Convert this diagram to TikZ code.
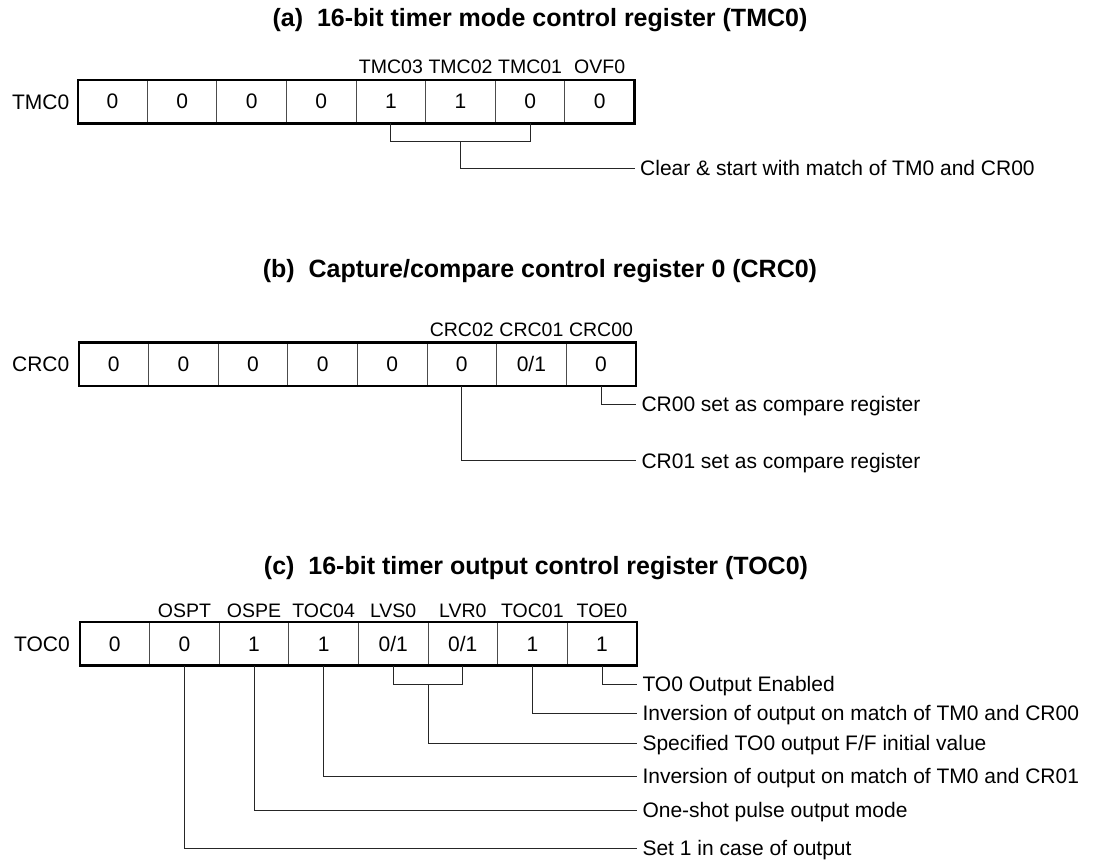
\documentclass[tikz,border=0pt]{standalone}
\usepackage{fontspec}
\setmainfont{Liberation Sans}
\begin{document}
\begin{tikzpicture}[x=1pt,y=-1pt,
  cell/.style={draw=black!70, line width=0.9pt, minimum width=69.6pt, minimum height=43.5pt,
    inner sep=0pt, outer sep=0pt, font=\fontsize{21}{21}\selectfont},
  outerbox/.style={draw=black, line width=2.2pt},
  bitlbl/.style={font=\fontsize{19.5}{20}\selectfont, inner sep=0pt, text height=14pt, text depth=0pt},
  reglbl/.style={font=\fontsize{21}{21}\selectfont, anchor=east, inner sep=0pt, text height=15pt, text depth=0pt},
  desc/.style={font=\fontsize{21}{21}\selectfont, anchor=west, inner xsep=5.5pt, inner ysep=0pt, text height=15pt, text depth=0pt},
  titlelbl/.style={font=\fontsize{25}{25}\selectfont\bfseries, inner sep=0pt, text height=18pt, text depth=0pt},
  conn/.style={draw=black!85, line width=1pt}]
\useasboundingbox (0,0) rectangle (1093,862);

% ---------------- (a) ----------------
\node[titlelbl] (ta) at (540,18) {(a)\ \ 16-bit timer mode control register (TMC0)};
\node[reglbl] (ra) at (69.5,101.7) {TMC0};
\foreach \v [count=\i] in {0,0,0,0,1,1,0,0}
  \node[cell] (a\i) at ({77.7+69.6*(\i-0.5)},101.7) {\v};
\draw[outerbox] (a1.north west) rectangle (a8.south east);
\node[bitlbl] (la5) at ([yshift=13pt]a5.north) {TMC03};
\node[bitlbl] (la6) at ([yshift=13pt]a6.north) {TMC02};
\node[bitlbl] (la7) at ([yshift=13pt]a7.north) {TMC01};
\node[bitlbl] (la8) at ([yshift=13pt]a8.north) {OVF0};
\node[desc] (da1) at (634.5,168.3) {Clear \& start with match of TM0 and CR00};
\draw[conn] (a5.south) -- ++(0,18.4) -| (a7.south);
\coordinate (abr) at ([yshift=-18.4pt]a6.south);
\draw[conn] (abr) |- (da1.west);

% ---------------- (b) ----------------
\node[titlelbl] (tb) at (540,268) {(b)\ \ Capture/compare control register 0 (CRC0)};
\node[reglbl] (rb) at (69.5,364.2) {CRC0};
\foreach \v [count=\i] in {0,0,0,0,0,0,{0/1},0}
  \node[cell] (b\i) at ({79+69.6*(\i-0.5)},364.2) {\v};
\draw[outerbox] (b1.north west) rectangle (b8.south east);
\node[bitlbl] (lb6) at ([yshift=13pt]b6.north) {CRC02};
\node[bitlbl] (lb7) at ([yshift=13pt]b7.north) {CRC01};
\node[bitlbl] (lb8) at ([yshift=13pt]b8.north) {CRC00};
\node[desc] (db1) at (635.8,404) {CR00 set as compare register};
\node[desc] (db2) at (635.8,460.7) {CR01 set as compare register};
\draw[conn] (b8.south) |- (db1.west);
\draw[conn] (b6.south) |- (db2.west);

% ---------------- (c) ----------------
\node[titlelbl] (tc) at (536,565) {(c)\ \ 16-bit timer output control register (TOC0)};
\node[reglbl] (rc) at (70,643.8) {TOC0};
\foreach \v [count=\i] in {0,0,1,1,{0/1},{0/1},1,1}
  \node[cell] (c\i) at ({80+69.6*(\i-0.5)},643.8) {\v};
\draw[outerbox] (c1.north west) rectangle (c8.south east);
\node[bitlbl] (lc2) at ([yshift=12pt]c2.north) {OSPT};
\node[bitlbl] (lc3) at ([yshift=12pt]c3.north) {OSPE};
\node[bitlbl] (lc4) at ([yshift=12pt]c4.north) {TOC04};
\node[bitlbl] (lc5) at ([yshift=12pt]c5.north) {LVS0};
\node[bitlbl] (lc6) at ([yshift=12pt]c6.north) {LVR0};
\node[bitlbl] (lc7) at ([yshift=12pt]c7.north) {TOC01};
\node[bitlbl] (lc8) at ([yshift=12pt]c8.north) {TOE0};
\node[desc] (dc1) at (636.8,684) {TO0 Output Enabled};
\node[desc] (dc2) at (636.8,713.3) {Inversion of output on match of TM0 and CR00};
\node[desc] (dc3) at (636.8,743.3) {Specified TO0 output F/F initial value};
\node[desc] (dc4) at (636.8,776) {Inversion of output on match of TM0 and CR01};
\node[desc] (dc5) at (636.8,810) {One-shot pulse output mode};
\node[desc] (dc6) at (636.8,848) {Set 1 in case of output};
\draw[conn] (c8.south) |- (dc1.west);
\draw[conn] (c7.south) |- (dc2.west);
\draw[conn] (c5.south) -- ++(0,18.5) -| (c6.south);
\coordinate (cbr) at ([yshift=-18.5pt]c5.south east);
\draw[conn] (cbr) |- (dc3.west);
\draw[conn] (c4.south) |- (dc4.west);
\draw[conn] (c3.south) |- (dc5.west);
\draw[conn] (c2.south) |- (dc6.west);
\end{tikzpicture}
\end{document}
